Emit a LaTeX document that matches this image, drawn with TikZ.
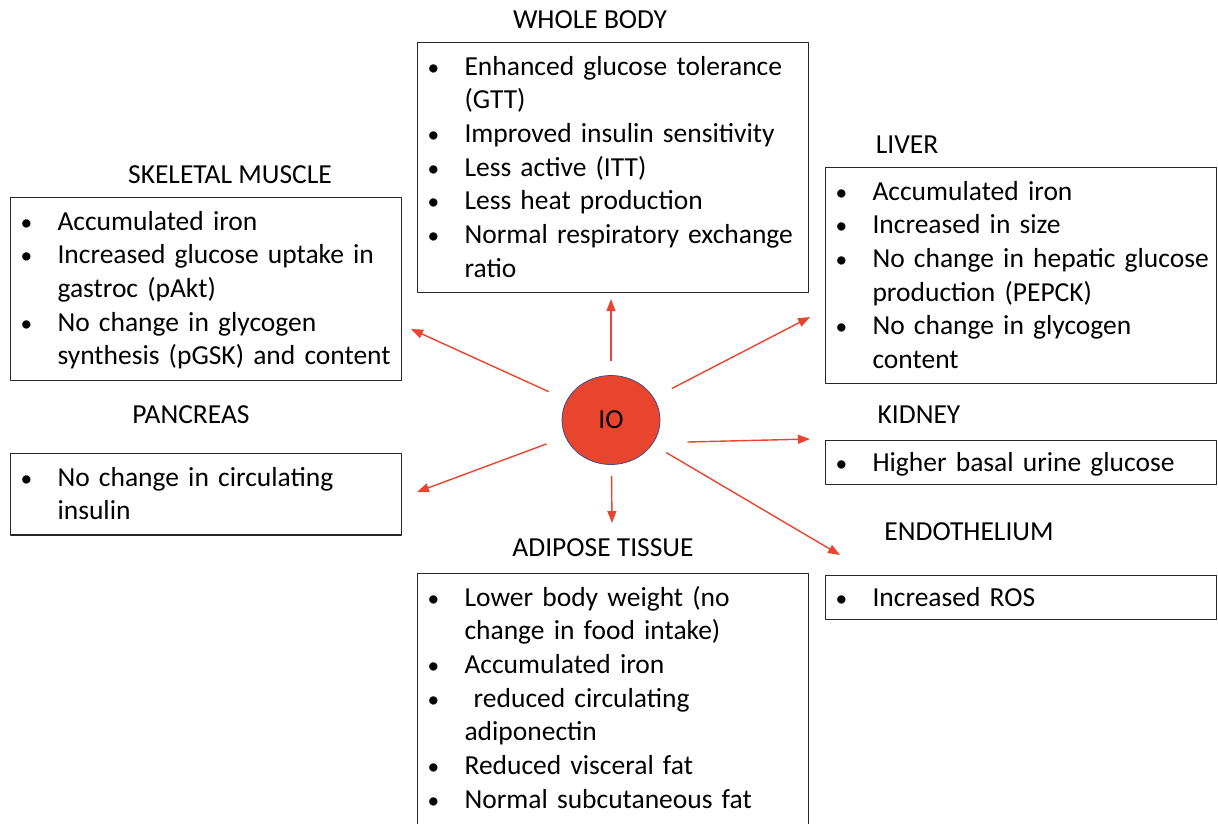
\documentclass[tikz,border=0pt]{standalone}
\usepackage{fontspec}
\setmainfont{Carlito}
\usetikzlibrary{arrows.meta,shapes.geometric}

\definecolor{iored}{RGB}{233,69,46}
\definecolor{ioedge}{RGB}{62,78,140}

% line strut and one bullet line of a box
\newcommand{\lstrut}{\rule[-8.2pt]{0pt}{33.7pt}}
\newcommand{\bul}[1]{\noindent\hangindent=40pt\hangafter=1%
	\makebox[40pt][l]{\hspace{3pt}\scalebox{0.85}{\textbullet}}\lstrut#1\lstrut\par}

\begin{document}
\begin{tikzpicture}[x=1pt, y=-1pt, line join=round, font=\fontsize{27.5}{33.7}\selectfont,
	infobox/.style={draw=black!85, line width=1.1pt, anchor=north west, text width=377pt,
		inner xsep=7pt, inner ysep=7pt, execute at begin node=\raggedright},
	organ/.style={anchor=base, inner sep=0pt},
	effect/.style={draw=iored, line width=1.4pt, shorten <=20pt, -{Triangle[length=12pt,width=9pt]}}]
	% Page frame
	\useasboundingbox (0,0) rectangle (1218,823);
	
	% Centre
	\node[ellipse, draw=ioedge, line width=0.8pt, fill=iored, minimum width=98pt,
	minimum height=89pt, inner sep=0pt] (io) at (611,420) {IO};
	
	% Boxes
	\node[infobox] (body) at (417,42) {%
		\bul{Enhanced glucose tolerance\newline(GTT)}
		\bul{Improved insulin sensitivity}
		\bul{Less active (ITT)}
		\bul{Less heat production}
		\bul{Normal respiratory exchange\newline ratio}};
	\node[infobox] (muscle) at (10,197) {%
		\bul{Accumulated iron}
		\bul{Increased glucose uptake in\newline gastroc (pAkt)}
		\bul{No change in glycogen\newline synthesis (pGSK) and content}};
	\node[infobox] (liver) at (825,167) {%
		\bul{Accumulated iron}
		\bul{Increased in size}
		\bul{No change in hepatic glucose\newline production (PEPCK)}
		\bul{No change in glycogen\newline content}};
	\node[infobox] (pancreas) at (10,453) {%
		\bul{No change in circulating\newline insulin}};
	\node[infobox, inner ysep=5pt] (kidney) at (825,440) {%
		\bul{Higher basal urine glucose}};
	\node[infobox, inner ysep=5pt] (endo) at (825,575) {%
		\bul{Increased ROS}};
	% runs past the lower page edge
	\node[infobox] (adipose) at (417,573) {%
		\bul{Lower body weight (no\newline change in food intake)}
		\bul{Accumulated iron}
		\bul{\ reduced circulating\newline adiponectin}
		\bul{Reduced visceral fat}
		\bul{Normal subcutaneous fat}
		\noindent\rule{0pt}{1pt}};
	
	% Titles
	\node[organ] (bodyT) at (590,28) {WHOLE BODY};
	\node[organ] (muscleT) at (230,183) {SKELETAL MUSCLE};
	\node[organ] (liverT) at (907,153) {LIVER};
	\node[organ] (pancreasT) at (191,423) {PANCREAS};
	\node[organ] (kidneyT) at (919,423) {KIDNEY};
	\node[organ] (endoT) at (969,540) {ENDOTHELIUM};
	\node[organ] (adiposeT) at (603,556) {ADIPOSE TISSUE};
	
	% Arrow ends
	\coordinate (toBody) at (611,299);
	\coordinate (toMuscle) at (411,329);
	\coordinate (toLiver) at (810,317);
	\coordinate (toKidney) at (810,439);
	\coordinate (toPancreas) at (417,492);
	\coordinate (toAdipose) at (612,523);
	\coordinate (toEndo) at (840,555);
	
	% Arrows
	\draw[effect, shorten <=14pt] (io) -- (toBody);
	\draw[effect] (io) -- (toMuscle);
	\draw[effect] (io) -- (toLiver);
	\draw[effect, shorten <=0pt] ([shift={(27,22)}]io.east) -- (toKidney);
	\draw[effect] (io) -- (toPancreas);
	\draw[effect, shorten <=11pt] (io) -- (toAdipose);
	\draw[effect, shorten <=16pt] (io) -- (toEndo);
\end{tikzpicture}
\end{document}
